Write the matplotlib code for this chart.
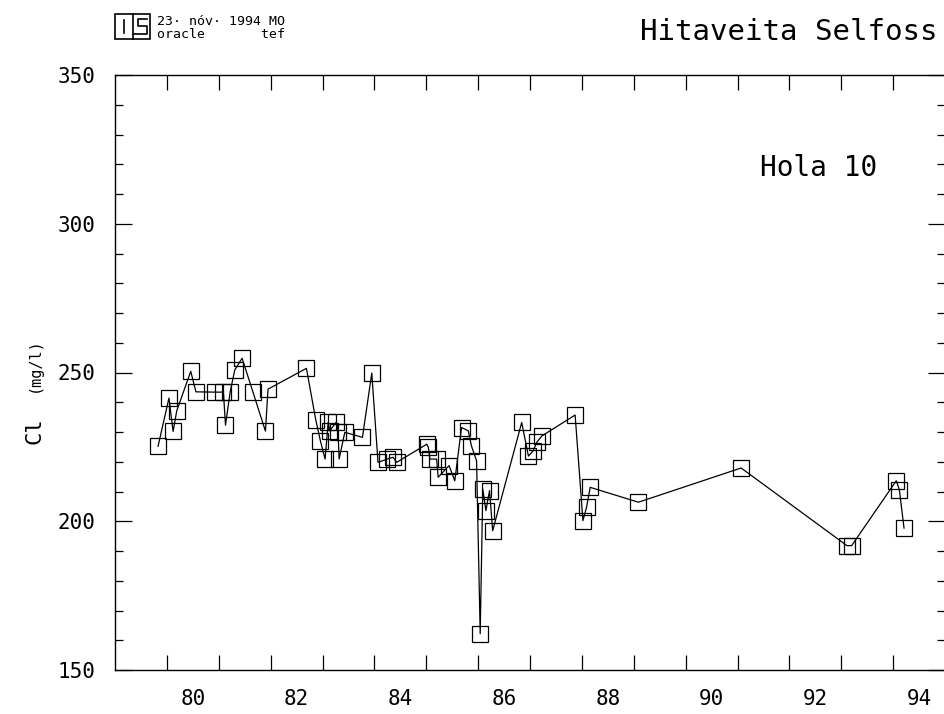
import matplotlib
matplotlib.use("Agg")
import matplotlib.pyplot as plt
from matplotlib.lines import Line2D
from matplotlib.patches import Rectangle

# ---- data ----
years = [1979.83, 1980.04, 1980.12, 1980.19, 1980.46, 1980.56, 1980.93, 1981.09,
         1981.13, 1981.22, 1981.31, 1981.45, 1981.66, 1981.90, 1981.95, 1982.69,
         1982.87, 1982.96, 1983.05, 1983.11, 1983.14, 1983.26, 1983.30, 1983.32,
         1983.43, 1983.77, 1983.95, 1984.07, 1984.25, 1984.36, 1984.43, 1985.01,
         1985.04, 1985.07, 1985.20, 1985.23, 1985.44, 1985.55, 1985.68, 1985.81,
         1985.87, 1985.97, 1986.04, 1986.09, 1986.15, 1986.22, 1986.28, 1986.84,
         1986.97, 1987.06, 1987.13, 1987.23, 1987.87, 1988.02, 1988.09, 1988.16,
         1989.09, 1991.07, 1993.11, 1993.20, 1994.06, 1994.12, 1994.21]
cl_values = [225.2, 241.4, 230.2, 237.1, 250.4, 243.5, 243.4, 243.4,
             232.3, 243.5, 250.9, 254.8, 243.4, 230.3, 244.4, 251.4,
             234.1, 227.0, 220.9, 233.2, 230.4, 233.2, 229.9, 220.9,
             229.9, 228.2, 249.8, 219.8, 220.9, 221.5, 219.8, 225.9,
             224.9, 220.9, 220.9, 214.8, 218.7, 213.6, 231.5, 230.4,
             225.4, 220.3, 162.2, 210.8, 203.6, 210.3, 196.8, 233.2,
             221.9, 223.7, 226.5, 228.7, 235.7, 200.2, 204.7, 211.4,
             206.4, 217.9, 191.8, 191.8, 213.6, 210.6, 197.7]
year_ticks = list(range(1980, 1995))
year_labels = ["80", "82", "84", "86", "88", "90", "92", "94"]
label_positions = [1980.5, 1982.5, 1984.5, 1986.5, 1988.5, 1990.5, 1992.5, 1994.5]
y_major = [150, 200, 250, 300, 350]
y_minor = list(range(150, 351, 10))

W, H = 944, 714
fig = plt.figure(figsize=(W / 100, H / 100), dpi=100)
FONT = "DejaVu Sans Mono"

def fx(px):
    return px / W

def fy(py):
    return 1 - py / H

ax = fig.add_axes([fx(115), fy(670), (945 - 115) / W, (670 - 75) / H])
ax.plot(years, cl_values, color="black", linewidth=0.9,
        marker="s", markersize=11, markerfacecolor="none",
        markeredgecolor="black", markeredgewidth=0.9, zorder=3)

ax.set_xlim(1979.0, 1995.0)
ax.set_ylim(150, 350)

ax.set_xticks(year_ticks)
ax.set_xticklabels([])
ax.set_xticks(label_positions, minor=True)
ax.set_xticklabels(year_labels, minor=True, fontsize=15, family=FONT)
ax.tick_params(axis="x", which="major", direction="in", length=11, width=0.9,
               top=True, bottom=True)
ax.tick_params(axis="x", which="minor", length=0, pad=14)

ax.set_yticks(y_major)
ax.set_yticklabels([str(v) for v in y_major], fontsize=15, family=FONT)
ax.set_yticks(y_minor, minor=True)
ax.tick_params(axis="y", which="major", direction="in", length=12, width=0.9,
               left=True, right=True, pad=14)
ax.tick_params(axis="y", which="minor", direction="in", length=6, width=0.9,
               left=True, right=True)

for s in ax.spines.values():
    s.set_linewidth(1.0)

# y-axis label
fig.text(fx(34), fy(431), "Cl", rotation=90, ha="center", va="center",
         fontsize=16, family=FONT)
fig.text(fx(34), fy(365), "(mg/l)", rotation=90, ha="center", va="center",
         fontsize=11, family=FONT)

# titles
fig.text(fx(938), fy(32), "Hitaveita Selfoss", ha="right", va="center",
         fontsize=21, family=FONT)
fig.text(fx(819), fy(168), "Hola 10", ha="center", va="center",
         fontsize=20, family=FONT)

# header block
fig.text(fx(157), fy(25), "23· nóv· 1994 MO", ha="left", va="baseline",
         fontsize=9.5, family=FONT)
fig.text(fx(157), fy(38), "oracle       tef", ha="left", va="baseline",
         fontsize=9.5, family=FONT)

# logo
tf = fig.transFigure
fig.add_artist(Rectangle((fx(115), fy(39)), fx(150) - fx(115), fy(14) - fy(39),
                         fill=False, edgecolor="black", linewidth=1.2, transform=tf))
fig.add_artist(Line2D([fx(133), fx(133)], [fy(14), fy(39)], color="black",
                      linewidth=1.2, transform=tf))
fig.add_artist(Line2D([fx(124), fx(124)], [fy(20), fy(33)], color="black",
                      linewidth=1.2, transform=tf))
fig.add_artist(Line2D([fx(147), fx(138), fx(138), fx(147), fx(147), fx(133)],
                      [fy(19), fy(19), fy(26), fy(26), fy(34), fy(34)],
                      color="black", linewidth=1.2, transform=tf))

fig.savefig("out.png", dpi=100)
